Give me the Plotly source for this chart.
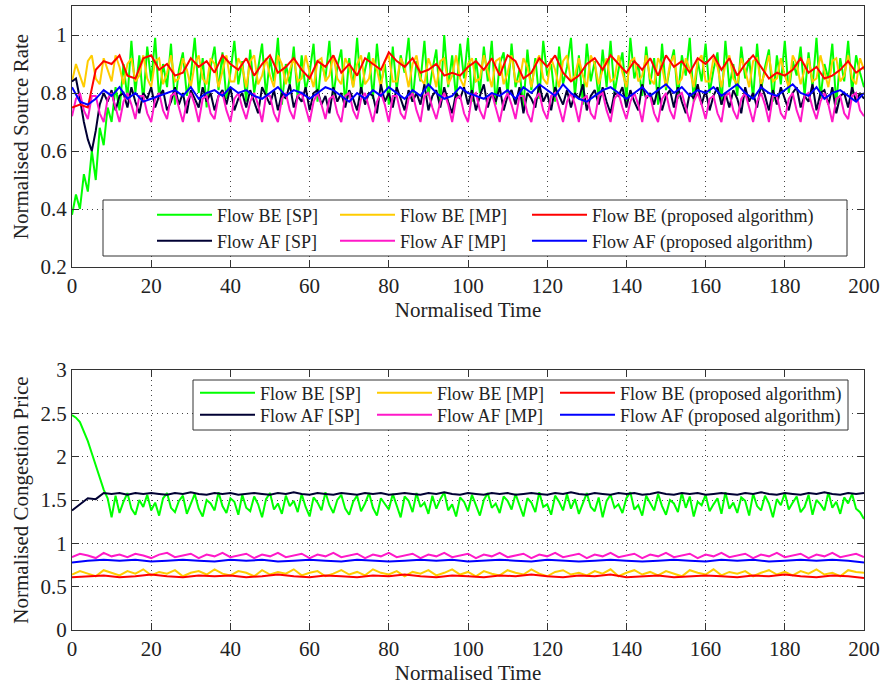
import numpy as np
import plotly.graph_objects as go
from plotly.subplots import make_subplots

# ---------------- data: top panel (Normalised Source Rate), step 1 unless noted ----------------
rate_be_sp = [0.38,0.45,0.40,0.52,0.46,0.60,0.50,0.68,0.62,0.75,0.70,0.82,0.74,0.90,0.78,
    0.98,0.80,0.93,0.77,0.96,0.84,0.99,0.78,0.90,0.82,
    0.97,0.76,0.88,0.94,0.79,0.86,0.99,0.80,0.92,0.75,
    0.89,0.96,0.81,0.94,0.78,0.87,0.98,0.83,0.91,0.77,
    0.95,0.80,0.88,0.97,0.79,0.92,0.84,0.99,0.76,0.90,
    0.83,0.96,0.78,0.93,0.81,0.87,0.97,0.77,0.91,0.85,
    0.98,0.79,0.89,0.95,0.76,0.92,0.82,0.99,0.80,0.88,
    0.94,0.78,0.97,0.83,0.90,0.76,0.96,0.81,0.93,0.87,
    0.99,0.77,0.91,0.84,0.98,0.79,0.88,0.95,0.76,1.00,
    0.82,0.93,0.78,0.97,0.85,0.99,0.77,0.92,0.80,0.96,
    0.84,0.98,0.76,0.90,0.94,0.79,0.97,0.82,0.88,0.75,
    0.95,0.81,0.92,0.78,0.98,0.86,0.90,0.77,0.96,0.83,
    0.89,0.99,0.79,0.93,0.76,0.97,0.84,0.91,0.78,0.95,
    0.82,0.98,0.80,0.88,0.94,0.77,0.99,0.85,0.90,0.79,
    0.96,0.83,0.92,0.76,0.97,0.81,0.89,0.95,0.78,0.93,
    0.86,0.99,0.77,0.91,0.84,0.97,0.80,0.88,0.94,0.76,
    0.98,0.82,0.90,0.79,0.96,0.85,0.92,0.78,0.97,0.81,
    0.89,0.95,0.77,0.93,0.83,0.98,0.80,0.91,0.86,0.96,
    0.79,0.94,0.82,0.99,0.78,0.90,0.85,0.97,0.76,0.92,
    0.84,0.98,0.80,0.93,0.87,0.82]

rate_be_mp = [0.84,0.90,0.86,0.82,0.91,0.93,0.85,0.83,0.92,0.88,
    0.84,0.93,0.89,0.83,0.90,0.92,0.84,0.86,0.93,0.85,
    0.82,0.91,0.92,0.83,0.87,0.93,0.84,0.85,0.92,0.88,
    0.82,0.90,0.93,0.85,0.83,0.92,0.90,0.82,0.88,0.93,
    0.84,0.84,0.92,0.89,0.82,0.91,0.93,0.83,0.86,0.92,
    0.86,0.82,0.93,0.90,0.83,0.88,0.92,0.84,0.85,0.93,
    0.87,0.82,0.91,0.92,0.84,0.86,0.93,0.85,0.83,0.92,
    0.89,0.82,0.90,0.93,0.83,0.85,0.92,0.88,0.82,0.91,
    0.93,0.84,0.84,0.92,0.89,0.82,0.90,0.93,0.85,0.83,
    0.92,0.88,0.82,0.91,0.92,0.83,0.86,0.93,0.85,0.82,
    0.90,0.92,0.84,0.85,0.93,0.87,0.82,0.91,0.92,0.83,
    0.87,0.93,0.84,0.84,0.92,0.89,0.82,0.90,0.93,0.85,
    0.83,0.92,0.88,0.82,0.91,0.93,0.84,0.86,0.92,0.86,
    0.82,0.93,0.90,0.83,0.88,0.92,0.84,0.85,0.93,0.87,
    0.82,0.91,0.92,0.84,0.86,0.93,0.85,0.83,0.92,0.89,
    0.82,0.90,0.93,0.83,0.85,0.92,0.88,0.82,0.91,0.93,
    0.84,0.84,0.92,0.89,0.82,0.90,0.93,0.85,0.83,0.92,
    0.88,0.82,0.91,0.92,0.83,0.87,0.93,0.84,0.85,0.92,
    0.86,0.82,0.93,0.90,0.83,0.88,0.92,0.84,0.85,0.93,
    0.87,0.82,0.91,0.92,0.84,0.86,0.93,0.85,0.83,0.92,
    0.88]

rate_af_sp = [0.84,0.85,0.78,0.70,0.64,0.60,0.67,0.76,0.80,0.77,
    0.81,0.74,0.79,0.80,0.75,0.82,0.77,0.73,0.80,0.78,
    0.82,0.75,0.79,0.81,0.74,0.77,0.82,0.76,0.80,0.73,
    0.81,0.78,0.75,0.82,0.77,0.80,0.74,0.79,0.81,0.76,
    0.82,0.74,0.78,0.80,0.75,0.81,0.77,0.73,0.82,0.79,
    0.76,0.81,0.74,0.80,0.78,0.83,0.75,0.79,0.77,0.82,
    0.74,0.80,0.81,0.76,0.79,0.73,0.82,0.77,0.80,0.75,
    0.81,0.78,0.74,0.82,0.76,0.80,0.79,0.73,0.83,0.77,
    0.80,0.75,0.82,0.78,0.74,0.81,0.77,0.80,0.76,0.83,
    0.74,0.79,0.81,0.75,0.82,0.77,0.73,0.80,0.78,0.82,
    0.76,0.81,0.74,0.79,0.83,0.75,0.80,0.77,0.82,0.74,
    0.79,0.81,0.76,0.82,0.73,0.80,0.78,0.75,0.83,0.77,
    0.80,0.74,0.82,0.79,0.76,0.81,0.75,0.80,0.78,0.83,
    0.74,0.79,0.81,0.76,0.82,0.77,0.73,0.80,0.79,0.82,
    0.75,0.81,0.77,0.74,0.83,0.78,0.80,0.76,0.82,0.74,
    0.79,0.81,0.75,0.82,0.77,0.73,0.80,0.78,0.83,0.76,
    0.81,0.74,0.79,0.82,0.76,0.80,0.75,0.81,0.78,0.73,
    0.82,0.77,0.80,0.75,0.83,0.79,0.74,0.81,0.76,0.82,
    0.78,0.74,0.80,0.82,0.75,0.79,0.77,0.83,0.74,0.80,
    0.81,0.76,0.82,0.73,0.79,0.80,0.75,0.82,0.77,0.80,
    0.78]

rate_af_mp = [0.72,0.78,0.80,0.74,0.71,0.79,0.79,0.73,0.70,0.78,
    0.80,0.75,0.70,0.77,0.80,0.76,0.71,0.79,0.79,0.73,
    0.70,0.78,0.80,0.74,0.71,0.79,0.80,0.75,0.70,0.77,
    0.80,0.76,0.70,0.78,0.79,0.73,0.71,0.79,0.80,0.74,
    0.70,0.78,0.80,0.75,0.71,0.77,0.80,0.76,0.70,0.79,
    0.79,0.73,0.70,0.78,0.80,0.74,0.71,0.79,0.80,0.75,
    0.70,0.77,0.80,0.76,0.71,0.78,0.79,0.73,0.70,0.79,
    0.80,0.74,0.71,0.78,0.80,0.75,0.70,0.77,0.80,0.76,
    0.70,0.79,0.79,0.73,0.71,0.78,0.80,0.74,0.70,0.79,
    0.80,0.75,0.71,0.77,0.80,0.76,0.70,0.78,0.79,0.73,
    0.70,0.79,0.80,0.74,0.71,0.78,0.80,0.75,0.70,0.77,
    0.80,0.76,0.71,0.79,0.79,0.73,0.70,0.78,0.80,0.74,
    0.71,0.79,0.80,0.75,0.70,0.77,0.80,0.76,0.70,0.78,
    0.79,0.73,0.71,0.79,0.80,0.74,0.70,0.78,0.80,0.75,
    0.71,0.77,0.80,0.76,0.70,0.79,0.79,0.73,0.70,0.78,
    0.80,0.74,0.71,0.79,0.80,0.75,0.70,0.77,0.80,0.76,
    0.71,0.78,0.79,0.73,0.70,0.79,0.80,0.74,0.71,0.78,
    0.80,0.75,0.70,0.77,0.80,0.76,0.70,0.79,0.79,0.73,
    0.71,0.78,0.80,0.74,0.70,0.79,0.80,0.75,0.71,0.77,
    0.80,0.76,0.70,0.78,0.79,0.73,0.71,0.79,0.80,0.74,
    0.72]

# step 2
rate_be_prop = [0.75,0.76,0.75,0.88,0.91,0.90,0.93,0.86,0.85,0.92,
    0.93,0.88,0.90,0.86,0.87,0.92,0.89,0.91,0.87,0.93,
    0.90,0.88,0.92,0.86,0.90,0.93,0.87,0.89,0.92,0.88,
    0.85,0.91,0.89,0.93,0.87,0.90,0.86,0.92,0.90,0.88,
    0.94,0.91,0.89,0.92,0.87,0.88,0.90,0.86,0.87,0.86,
    0.89,0.91,0.88,0.92,0.86,0.93,0.91,0.85,0.87,0.92,
    0.89,0.93,0.87,0.84,0.86,0.90,0.92,0.88,0.93,0.90,
    0.87,0.91,0.88,0.92,0.86,0.93,0.89,0.91,0.87,0.92,
    0.90,0.93,0.88,0.92,0.86,0.90,0.93,0.89,0.85,0.87,
    0.86,0.88,0.92,0.87,0.89,0.85,0.86,0.88,0.91,0.87,
    0.89]

rate_af_prop = [0.82,0.77,0.76,0.78,0.81,0.79,0.82,0.78,0.80,0.77,
    0.78,0.79,0.80,0.81,0.79,0.82,0.78,0.80,0.81,0.79,
    0.82,0.80,0.81,0.79,0.78,0.80,0.82,0.79,0.81,0.80,
    0.78,0.80,0.82,0.81,0.79,0.77,0.80,0.78,0.81,0.79,
    0.82,0.80,0.78,0.81,0.79,0.83,0.80,0.78,0.79,0.82,
    0.80,0.79,0.78,0.80,0.79,0.81,0.78,0.82,0.80,0.83,
    0.81,0.79,0.83,0.80,0.78,0.77,0.79,0.81,0.82,0.80,
    0.78,0.80,0.82,0.79,0.81,0.83,0.80,0.82,0.79,0.81,
    0.80,0.82,0.79,0.81,0.83,0.80,0.78,0.82,0.80,0.79,
    0.81,0.83,0.80,0.79,0.82,0.78,0.80,0.81,0.79,0.77,
    0.80]

# ---------------- data: bottom panel (Normalised Congestion Price) ----------------
price_be_sp = [2.48,2.45,2.40,2.30,2.18,2.04,1.90,1.76,1.62,1.52,
    1.30,1.55,1.35,1.48,1.58,1.40,1.33,1.50,1.42,1.56,
    1.38,1.47,1.32,1.52,1.58,1.41,1.36,1.49,1.55,1.34,
    1.45,1.57,1.40,1.31,1.50,1.46,1.38,1.59,1.43,1.35,
    1.52,1.48,1.33,1.56,1.41,1.37,1.54,1.45,1.30,1.51,
    1.58,1.39,1.46,1.34,1.55,1.43,1.49,1.36,1.57,1.42,
    1.31,1.53,1.47,1.38,1.59,1.44,1.35,1.50,1.56,1.40,
    1.33,1.48,1.55,1.37,1.46,1.58,1.41,1.32,1.52,1.45,
    1.39,1.57,1.43,1.30,1.54,1.49,1.36,1.58,1.42,1.47,
    1.34,1.55,1.40,1.51,1.59,1.38,1.45,1.31,1.53,1.48,
    1.37,1.56,1.44,1.32,1.50,1.58,1.41,1.46,1.35,1.54,
    1.49,1.39,1.57,1.43,1.31,1.52,1.47,1.36,1.59,1.42,
    1.45,1.33,1.55,1.48,1.38,1.57,1.40,1.51,1.34,1.46,
    1.58,1.42,1.37,1.53,1.30,1.49,1.56,1.41,1.45,1.35,
    1.52,1.59,1.39,1.44,1.32,1.55,1.47,1.38,1.57,1.43,
    1.33,1.50,1.46,1.36,1.58,1.41,1.54,1.31,1.48,1.44,
    1.56,1.37,1.45,1.52,1.34,1.59,1.40,1.47,1.35,1.53,
    1.49,1.32,1.57,1.43,1.38,1.55,1.46,1.30,1.51,1.44,
    1.58,1.39,1.47,1.54,1.36,1.42,1.56,1.33,1.50,1.45,
    1.38,1.59,1.41,1.48,1.34,1.53,1.46,1.57,1.40,1.36,
    1.28]

# step 2
price_af_sp = [1.38,1.45,1.52,1.51,1.58,1.57,1.58,1.56,1.58,1.57,
    1.58,1.57,1.56,1.58,1.57,1.59,1.57,1.56,1.58,1.57,
    1.58,1.56,1.57,1.58,1.57,1.56,1.58,1.57,1.59,1.57,
    1.56,1.58,1.57,1.56,1.58,1.57,1.56,1.58,1.57,1.58,
    1.56,1.57,1.58,1.57,1.56,1.58,1.57,1.59,1.57,1.56,
    1.58,1.57,1.56,1.58,1.57,1.58,1.56,1.57,1.58,1.57,
    1.56,1.58,1.57,1.59,1.57,1.56,1.58,1.57,1.56,1.58,
    1.57,1.58,1.56,1.57,1.59,1.57,1.56,1.58,1.57,1.58,
    1.56,1.57,1.58,1.57,1.56,1.58,1.57,1.59,1.57,1.56,
    1.58,1.57,1.56,1.58,1.57,1.59,1.57,1.56,1.58,1.57,
    1.58]

price_af_mp = [0.84,0.88,0.86,0.83,0.89,0.85,0.87,0.84,0.88,0.86,
    0.83,0.87,0.89,0.84,0.86,0.88,0.83,0.87,0.85,0.89,
    0.84,0.86,0.88,0.83,0.87,0.85,0.89,0.84,0.86,0.88,
    0.83,0.87,0.85,0.89,0.84,0.86,0.88,0.83,0.87,0.85,
    0.89,0.84,0.86,0.88,0.83,0.87,0.85,0.89,0.84,0.86,
    0.88,0.83,0.87,0.85,0.89,0.84,0.86,0.88,0.83,0.87,
    0.85,0.89,0.84,0.86,0.88,0.83,0.87,0.85,0.89,0.84,
    0.86,0.88,0.83,0.87,0.85,0.89,0.84,0.86,0.88,0.83,
    0.87,0.85,0.89,0.84,0.86,0.88,0.83,0.87,0.85,0.89,
    0.84,0.86,0.88,0.83,0.87,0.85,0.89,0.84,0.86,0.88,
    0.84]

price_be_mp = [0.64,0.68,0.65,0.62,0.69,0.66,0.63,0.68,0.65,0.70,
    0.63,0.67,0.65,0.69,0.62,0.66,0.68,0.64,0.70,0.65,
    0.63,0.68,0.66,0.62,0.69,0.64,0.67,0.65,0.70,0.63,
    0.66,0.68,0.62,0.65,0.69,0.64,0.67,0.63,0.70,0.66,
    0.64,0.68,0.62,0.67,0.65,0.69,0.63,0.66,0.70,0.64,
    0.67,0.62,0.68,0.65,0.63,0.69,0.66,0.64,0.70,0.65,
    0.62,0.67,0.69,0.64,0.66,0.63,0.68,0.65,0.70,0.62,
    0.66,0.69,0.64,0.67,0.63,0.68,0.65,0.62,0.69,0.66,
    0.64,0.70,0.63,0.67,0.65,0.68,0.62,0.66,0.69,0.64,
    0.67,0.63,0.68,0.65,0.70,0.64,0.66,0.62,0.69,0.67,
    0.66]

# step 4
price_af_prop = [0.78,0.80,0.81,0.80,0.81,0.79,0.80,0.81,0.80,0.79,
    0.81,0.80,0.81,0.79,0.80,0.81,0.80,0.79,0.81,0.80,
    0.79,0.80,0.81,0.80,0.81,0.79,0.80,0.81,0.80,0.79,
    0.81,0.80,0.79,0.80,0.81,0.80,0.79,0.80,0.81,0.80,
    0.79,0.81,0.80,0.81,0.79,0.80,0.81,0.80,0.81,0.80,
    0.78]

price_be_prop = [0.61,0.62,0.63,0.61,0.62,0.64,0.62,0.61,0.63,0.62,
    0.63,0.61,0.62,0.64,0.62,0.61,0.63,0.62,0.61,0.63,
    0.62,0.64,0.62,0.61,0.63,0.62,0.61,0.63,0.62,0.64,
    0.62,0.61,0.63,0.62,0.64,0.61,0.62,0.63,0.61,0.62,
    0.63,0.62,0.61,0.63,0.62,0.64,0.62,0.61,0.63,0.62,
    0.60]

series_names = ["Flow BE [SP]", "Flow BE [MP]", "Flow BE (proposed algorithm)",
                "Flow AF [SP]", "Flow AF [MP]", "Flow AF (proposed algorithm)"]
x_ticks = [0, 20, 40, 60, 80, 100, 120, 140, 160, 180, 200]

C_GREEN, C_YELLOW, C_RED = "#00ff00", "#ffcc00", "#ff0000"
C_BLACK, C_MAGENTA, C_BLUE = "#000033", "#ff19c8", "#0000ff"

FONT = "Liberation Serif"
L, R, T, B = 72, 16, 6, 61
W, H = 880, 691
PW, PH = W - L - R, H - T - B


def px(xp):
    return (xp - L) / PW


def py(yp):
    return (H - B - yp) / PH


def tx(arr, step):
    return np.arange(len(arr)) * step


fig = make_subplots(rows=2, cols=1)

# (values, step, colour, name, legend text x px, legend row y px)
top = [
    (rate_be_sp, 1, C_GREEN, series_names[0], 217, 215),
    (rate_be_mp, 1, C_YELLOW, series_names[1], 400, 215),
    (rate_af_sp, 1, C_BLACK, series_names[3], 217, 241),
    (rate_af_mp, 1, C_MAGENTA, series_names[4], 400, 241),
    (rate_be_prop, 2, C_RED, series_names[2], 592, 215),
    (rate_af_prop, 2, C_BLUE, series_names[5], 592, 241),
]
bot = [
    (price_be_sp, 1, C_GREEN, series_names[0], 260, 393),
    (price_be_mp, 2, C_YELLOW, series_names[1], 437, 393),
    (price_af_sp, 2, C_BLACK, series_names[3], 260, 415),
    (price_af_mp, 2, C_MAGENTA, series_names[4], 437, 415),
    (price_be_prop, 4, C_RED, series_names[2], 620, 393),
    (price_af_prop, 4, C_BLUE, series_names[5], 620, 415),
]

ITEMW = 55
legends = {}
k = 1
for row, group in ((1, top), (2, bot)):
    for arr, step, col, name, lx, ly in group:
        k += 1
        lname = f"legend{k}"
        fig.add_trace(go.Scatter(x=tx(arr, step), y=arr, mode="lines", name=name,
                                 line=dict(color=col, width=2), legend=lname), row=row, col=1)
        legends[lname] = dict(x=px(lx - ITEMW - 10), y=py(ly), xanchor="left", yanchor="middle",
                              bgcolor="rgba(0,0,0,0)", borderwidth=0, orientation="v",
                              itemwidth=ITEMW,
                              font=dict(size=18, family=FONT, color="#222"))
fig.update_layout(**legends)

axis_common = dict(showline=True, linecolor="#333", linewidth=1, mirror="ticks",
                   ticks="inside", ticklen=7, tickcolor="#333", automargin=False,
                   showgrid=True, gridcolor="#444", griddash="1px,4px", gridwidth=1,
                   zeroline=False, tickfont=dict(size=21, family=FONT, color="#222"),
                   title_font=dict(size=21, family=FONT, color="#222"))

fig.update_xaxes(range=[0, 200], tickvals=x_ticks, title_text="Normalised Time",
                 title_standoff=2, **axis_common)
fig.update_yaxes(range=[0.2, 1.1], tickvals=[0.2, 0.4, 0.6, 0.8, 1.0],
                 title_text="Normalised Source Rate", title_standoff=6, row=1, col=1, **axis_common)
fig.update_yaxes(range=[0, 3], dtick=0.5, title_text="Normalised Congestion Price",
                 title_standoff=6, row=2, col=1, **axis_common)

fig.update_layout(yaxis=dict(domain=[py(267), 1.0]), yaxis2=dict(domain=[0.0, py(370)]))

# legend boxes
fig.add_shape(type="rect", xref="paper", yref="paper", x0=px(103), x1=px(847), y0=py(256), y1=py(200),
              fillcolor="white", line=dict(color="#333", width=1), layer="above")
fig.add_shape(type="rect", xref="paper", yref="paper", x0=px(193), x1=px(848), y0=py(430), y1=py(380),
              fillcolor="white", line=dict(color="#333", width=1), layer="above")

fig.update_layout(width=W, height=H, margin=dict(l=L, r=R, t=T, b=B, autoexpand=False),
                  plot_bgcolor="white", paper_bgcolor="white",
                  font=dict(family=FONT, color="#222"))

fig.write_html("out.html", config={"displayModeBar": False},
               post_script="document.body.style.margin='0px';")
